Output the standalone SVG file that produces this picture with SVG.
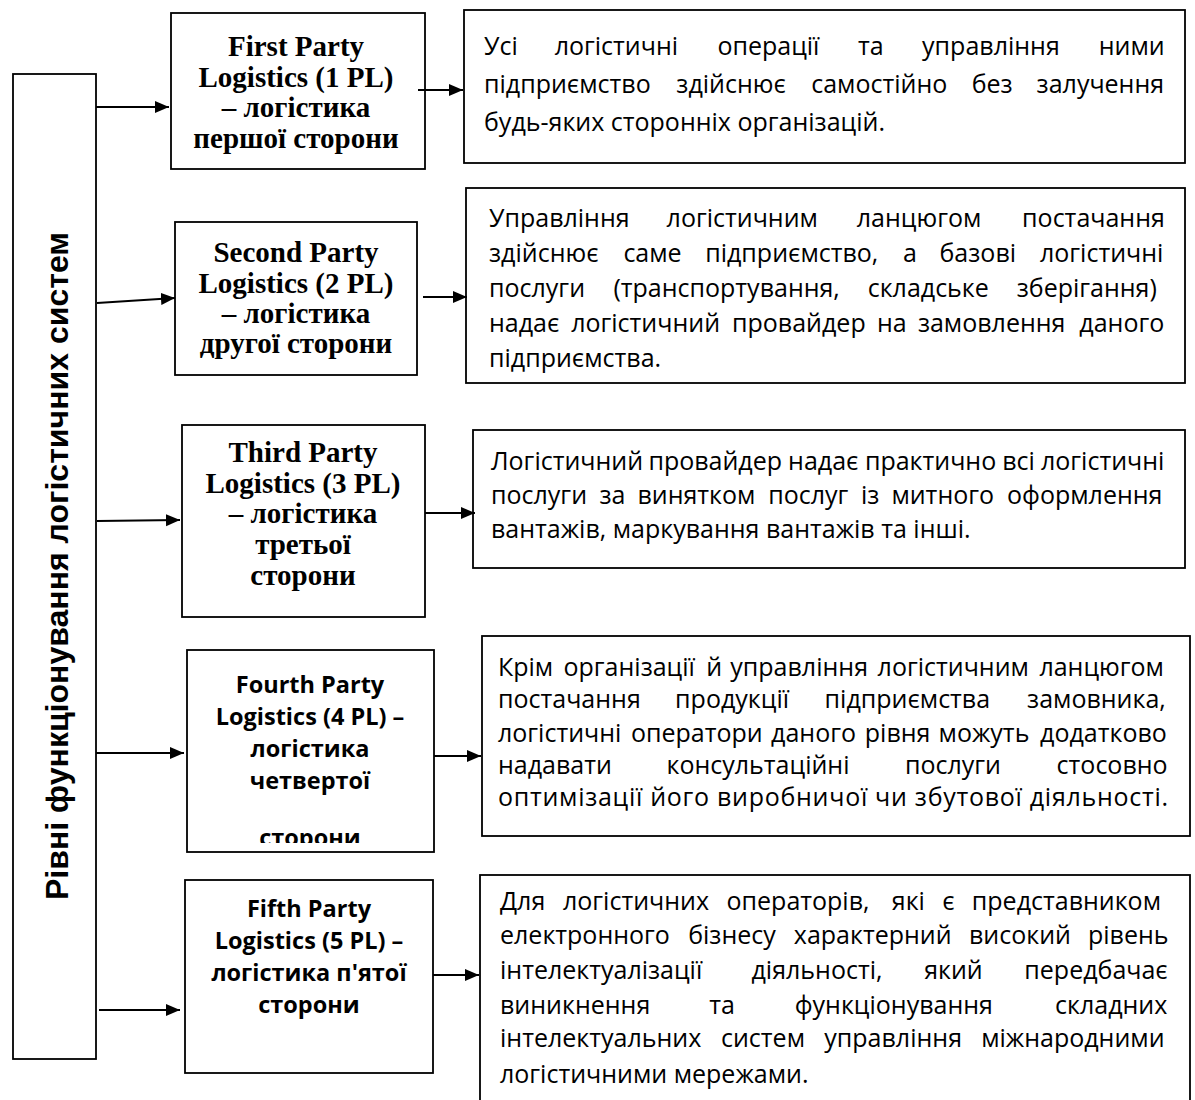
<svg xmlns="http://www.w3.org/2000/svg" width="1195" height="1100" viewBox="0 0 1195 1100">
<style>
.box{fill:#fff;stroke:#000;stroke-width:1.8}
.tnr{font-family:"Liberation Serif","Times New Roman",serif;font-weight:bold;font-size:29px;fill:#000;text-anchor:middle}
.cb{font-family:"Open Sans","Noto Sans",sans-serif;font-weight:bold;font-size:23.5px;fill:#000;text-anchor:middle}
.tx{font-family:"Open Sans","Noto Sans",sans-serif;font-size:25px;fill:#000}
.vt{font-family:"Liberation Sans",Arial,sans-serif;font-weight:bold;font-size:31px;fill:#000;text-anchor:middle}
.ln{stroke:#000;stroke-width:2;fill:none;marker-end:url(#ah)}
</style>
<defs>
<marker id="ah" markerUnits="userSpaceOnUse" markerWidth="15" markerHeight="13" refX="14" refY="6" orient="auto">
<path d="M0,0 L14,6 L0,12 z" fill="#000"/>
</marker>
<clipPath id="c4"><rect x="187" y="650" width="248" height="193"/></clipPath>
</defs>
<rect width="1195" height="1100" fill="#fff"/>

<g id="main">
<rect class="box" x="13" y="74" width="83" height="985"/>
<text class="vt" transform="translate(68,566) rotate(-90)" textLength="668" lengthAdjust="spacingAndGlyphs">Рівні функціонування логістичних систем</text>
</g>

<g id="n1">
<rect class="box" x="171" y="13" width="254" height="156"/>
<text class="tnr"><tspan x="296" y="56">First Party</tspan><tspan x="296" y="87">Logistics (1 PL)</tspan><tspan x="296" y="117">– логістика</tspan><tspan x="296" y="148">першої сторони</tspan></text>
</g>
<g id="n2">
<rect class="box" x="175" y="222" width="242" height="153"/>
<text class="tnr"><tspan x="296" y="262">Second Party</tspan><tspan x="296" y="293">Logistics (2 PL)</tspan><tspan x="296" y="323">– логістика</tspan><tspan x="296" y="353">другої сторони</tspan></text>
</g>
<g id="n3">
<rect class="box" x="182" y="425" width="243" height="192"/>
<text class="tnr"><tspan x="303" y="462">Third Party</tspan><tspan x="303" y="493">Logistics (3 PL)</tspan><tspan x="303" y="523">– логістика</tspan><tspan x="303" y="554">третьої</tspan><tspan x="303" y="585">сторони</tspan></text>
</g>
<g id="n4">
<rect class="box" x="187" y="650" width="247" height="202"/>
<text class="cb" clip-path="url(#c4)"><tspan x="310" y="693">Fourth Party</tspan><tspan x="310" y="725">Logistics (4 PL) –</tspan><tspan x="310" y="757">логістика</tspan><tspan x="310" y="789">четвертої</tspan><tspan x="310" y="846">сторони</tspan></text>
</g>
<g id="n5">
<rect class="box" x="185" y="880" width="248" height="193"/>
<text class="cb"><tspan x="309" y="917">Fifth Party</tspan><tspan x="309" y="949">Logistics (5 PL) –</tspan><tspan x="309" y="981">логістика п'ятої</tspan><tspan x="309" y="1013">сторони</tspan></text>
</g>

<g id="d1">
<rect class="box" x="464" y="10" width="721" height="153"/>
<text class="tx" y="55"><tspan x="484">Усі</tspan><tspan x="554.7">логістичні</tspan><tspan x="717.4">операції</tspan><tspan x="858.1">та</tspan><tspan x="922.1">управління</tspan><tspan x="1098.7">ними</tspan></text>
<text class="tx" y="93"><tspan x="484">підприємство</tspan><tspan x="676.3">здійснює</tspan><tspan x="811.2">самостійно</tspan><tspan x="971.7">без</tspan><tspan x="1036.6">залучення</tspan></text>
<text class="tx" x="484" y="131">будь-яких сторонніх організацій.</text>
</g>
<g id="d2">
<rect class="box" x="466" y="188" width="719" height="195"/>
<text class="tx" y="227"><tspan x="489">Управління</tspan><tspan x="666.6">логістичним</tspan><tspan x="856.8">ланцюгом</tspan><tspan x="1022.1">постачання</tspan></text>
<text class="tx" y="262"><tspan x="489">здійснює</tspan><tspan x="623.4">саме</tspan><tspan x="705.2">підприємство,</tspan><tspan x="903.1">а</tspan><tspan x="939.5">базові</tspan><tspan x="1040">логістичні</tspan></text>
<text class="tx" y="297"><tspan x="489">послуги</tspan><tspan x="613.4">(транспортування,</tspan><tspan x="867.7">складське</tspan><tspan x="1016.7">зберігання)</tspan></text>
<text class="tx" y="332"><tspan x="489">надає</tspan><tspan x="571.2">логістичний</tspan><tspan x="732">провайдер</tspan><tspan x="877">на</tspan><tspan x="917.9">замовлення</tspan><tspan x="1079.3">даного</tspan></text>
<text class="tx" x="489" y="367">підприємства.</text>
</g>
<g id="d3">
<rect class="box" x="473" y="430" width="712" height="138"/>
<text class="tx" y="470"><tspan x="491">Логістичний</tspan><tspan x="648.4">провайдер</tspan><tspan x="788.1">надає</tspan><tspan x="864.9">практично</tspan><tspan x="1002.2">всі</tspan><tspan x="1041">логістичні</tspan></text>
<text class="tx" y="504"><tspan x="491">послуги</tspan><tspan x="599.5">за</tspan><tspan x="637.4">винятком</tspan><tspan x="768.2">послуг</tspan><tspan x="861">із</tspan><tspan x="891.4">митного</tspan><tspan x="1007">оформлення</tspan></text>
<text class="tx" x="491" y="538">вантажів, маркування вантажів та інші.</text>
</g>
<g id="d4">
<rect class="box" x="482" y="636" width="708" height="200"/>
<text class="tx" y="676"><tspan x="498">Крім</tspan><tspan x="563.5">організації</tspan><tspan x="706.2">й</tspan><tspan x="730.3">управління</tspan><tspan x="877.6">логістичним</tspan><tspan x="1039.4">ланцюгом</tspan></text>
<text class="tx" y="708"><tspan x="498">постачання</tspan><tspan x="675.1">продукції</tspan><tspan x="824.6">підприємства</tspan><tspan x="1027.1">замовника,</tspan></text>
<text class="tx" y="742"><tspan x="498">логістичні</tspan><tspan x="630.9">оператори</tspan><tspan x="771.1">даного</tspan><tspan x="864.8">рівня</tspan><tspan x="938.6">можуть</tspan><tspan x="1040.1">додатково</tspan></text>
<text class="tx" y="774"><tspan x="498">надавати</tspan><tspan x="666.5">консультаційні</tspan><tspan x="904.9">послуги</tspan><tspan x="1056.6">стосовно</tspan></text>
<text class="tx" x="498" y="806" textLength="670" lengthAdjust="spacing">оптимізації його виробничої чи збутової діяльності.</text>
</g>
<g id="d5">
<rect class="box" x="480" y="875" width="710" height="240"/>
<text class="tx" y="910"><tspan x="500">Для</tspan><tspan x="563">логістичних</tspan><tspan x="726.5">операторів,</tspan><tspan x="891.8">які</tspan><tspan x="942.3">є</tspan><tspan x="971.8">представником</tspan></text>
<text class="tx" y="944"><tspan x="500">електронного</tspan><tspan x="688.2">бізнесу</tspan><tspan x="793.8">характерний</tspan><tspan x="969">високий</tspan><tspan x="1088">рівень</tspan></text>
<text class="tx" y="979"><tspan x="500">інтелектуалізації</tspan><tspan x="751.5">діяльності,</tspan><tspan x="924.2">який</tspan><tspan x="1024.3">передбачає</tspan></text>
<text class="tx" y="1014"><tspan x="500">виникнення</tspan><tspan x="709.3">та</tspan><tspan x="794.7">функціонування</tspan><tspan x="1055.1">складних</tspan></text>
<text class="tx" y="1047"><tspan x="500">інтелектуальних</tspan><tspan x="721">систем</tspan><tspan x="824.3">управління</tspan><tspan x="981.2">міжнародними</tspan></text>
<text class="tx" x="500" y="1083">логістичними мережами.</text>
</g>

<g id="connectors">
<line class="ln" x1="96" y1="107" x2="169" y2="107"/>
<line class="ln" x1="97" y1="303" x2="175" y2="298"/>
<line class="ln" x1="97" y1="521" x2="180" y2="520"/>
<line class="ln" x1="96" y1="753" x2="184" y2="753"/>
<line class="ln" x1="99" y1="1010" x2="180" y2="1010"/>
<line class="ln" x1="418" y1="90" x2="463" y2="90"/>
<line class="ln" x1="423" y1="297" x2="467" y2="297"/>
<line class="ln" x1="425" y1="513" x2="475" y2="513"/>
<line class="ln" x1="434" y1="756" x2="481" y2="756"/>
<line class="ln" x1="433" y1="975" x2="479" y2="975"/>
</g>
</svg>
